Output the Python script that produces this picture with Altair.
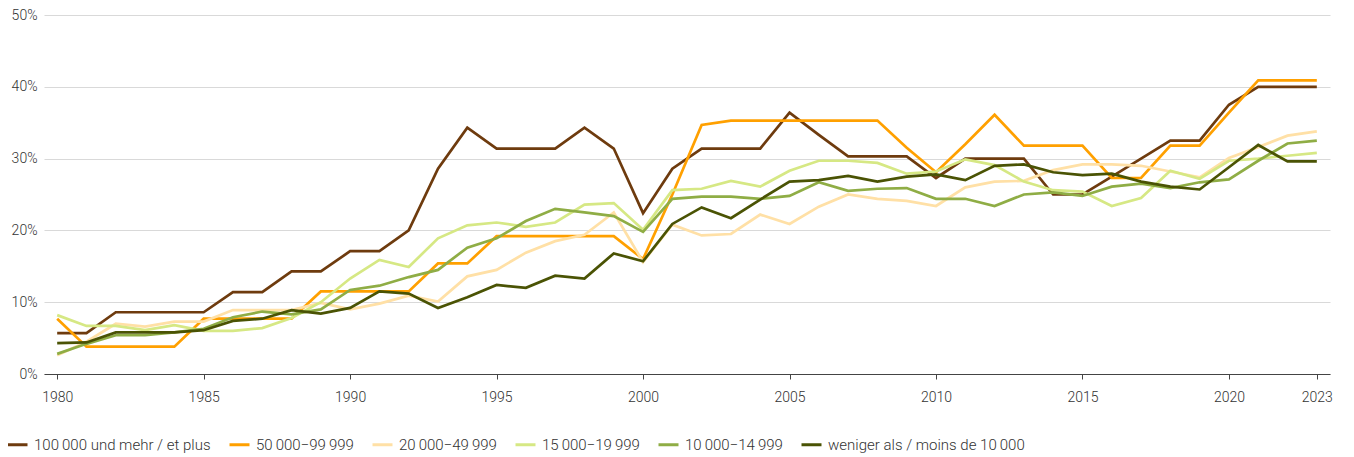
import altair as alt
import pandas as pd

years = list(range(1980, 2024))

series_names = [
    "100\u2009000 und mehr / et plus",
    "50\u2009000\u221299\u2009999",
    "20\u2009000\u221249\u2009999",
    "15\u2009000\u221219\u2009999",
    "10\u2009000\u221214\u2009999",
    "weniger als / moins de 10\u2009000",
]
series_colors = ["#6e3b0e", "#ffa000", "#ffe0a6", "#d6e884", "#8fad45", "#4a5304"]

v100 = [5.7, 5.7, 8.6, 8.6, 8.6, 8.6, 11.4, 11.4, 14.3, 14.3,
        17.1, 17.1, 20.0, 28.6, 34.3, 31.4, 31.4, 31.4, 34.3, 31.4,
        22.4, 28.6, 31.4, 31.4, 31.4, 36.4, 33.3, 30.3, 30.3, 30.3,
        27.3, 30.0, 30.0, 30.0, 25.0, 25.0, 27.5, 30.0, 32.5, 32.5,
        37.5, 40.0, 40.0, 40.0]
v50 = [7.7, 3.8, 3.8, 3.8, 3.8, 7.7, 7.7, 7.7, 7.7, 11.5,
       11.5, 11.5, 11.5, 15.4, 15.4, 19.2, 19.2, 19.2, 19.2, 19.2,
       16.0, 25.0, 34.7, 35.3, 35.3, 35.3, 35.3, 35.3, 35.3, 31.5,
       28.1, 32.0, 36.1, 31.8, 31.8, 31.8, 27.3, 27.3, 31.8, 31.8,
       36.4, 40.9, 40.9, 40.9]
v20 = [2.6, 4.5, 7.0, 6.6, 7.3, 7.3, 8.9, 8.9, 8.9, 9.9,
       9.0, 9.8, 10.9, 10.1, 13.6, 14.5, 16.9, 18.5, 19.4, 22.5,
       15.6, 20.8, 19.3, 19.5, 22.2, 20.9, 23.3, 25.0, 24.4, 24.1,
       23.4, 26.0, 26.8, 26.9, 28.4, 29.2, 29.2, 29.0, 28.2, 27.4,
       30.1, 31.6, 33.2, 33.8]
v15 = [8.2, 6.7, 6.7, 6.1, 6.8, 6.0, 6.0, 6.4, 7.8, 10.0,
       13.3, 15.9, 14.9, 18.9, 20.7, 21.1, 20.5, 21.1, 23.6, 23.8,
       20.1, 25.6, 25.8, 26.9, 26.1, 28.3, 29.7, 29.7, 29.4, 27.9,
       28.2, 29.9, 29.1, 26.8, 25.6, 25.4, 23.4, 24.5, 28.3, 27.2,
       29.7, 30.0, 30.4, 30.8]
v10 = [2.8, 4.2, 5.4, 5.4, 5.8, 6.3, 7.9, 8.7, 8.3, 9.0,
       11.7, 12.3, 13.5, 14.5, 17.6, 18.9, 21.3, 23.0, 22.5, 22.0,
       19.8, 24.4, 24.7, 24.7, 24.4, 24.8, 26.7, 25.5, 25.8, 25.9,
       24.4, 24.4, 23.4, 25.0, 25.3, 24.8, 26.1, 26.5, 25.9, 26.7,
       27.1, 29.7, 32.1, 32.5]
v0 = [4.3, 4.4, 5.8, 5.8, 5.8, 6.1, 7.4, 7.7, 8.9, 8.4,
      9.2, 11.5, 11.2, 9.2, 10.7, 12.4, 12.0, 13.7, 13.3, 16.8,
      15.7, 20.9, 23.2, 21.7, 24.3, 26.8, 27.0, 27.6, 26.8, 27.5,
      27.8, 27.0, 29.0, 29.2, 28.1, 27.7, 27.9, 26.8, 26.1, 25.7,
      28.8, 31.9, 29.6, 29.6]

x_ticks = [1980, 1985, 1990, 1995, 2000, 2005, 2010, 2015, 2020, 2023]
y_ticks = [0, 10, 20, 30, 40, 50]

all_values = [v100, v50, v20, v15, v10, v0]
rows = []
for name, vals in zip(series_names, all_values):
    for yr, v in zip(years, vals):
        rows.append({"year": yr, "value": v, "series": name})
df = pd.DataFrame(rows)

FONT = "Roboto"

chart = alt.Chart(df).mark_line(strokeWidth=2.7, strokeJoin="miter").encode(
    x=alt.X("year:Q",
            scale=alt.Scale(domain=[1979.55, 2023.45], nice=False, zero=False),
            axis=alt.Axis(values=x_ticks, format="d", title=None, grid=False,
                          domainColor="#444444", tickColor="#444444", tickSize=5,
                          labelFontSize=14, labelColor="#333333", labelFont=FONT,
                          labelFontWeight=300, labelPadding=11, labelFlush=False)),
    y=alt.Y("value:Q",
            scale=alt.Scale(domain=[0, 50], nice=False),
            axis=alt.Axis(values=y_ticks, labelExpr="datum.value + '%'", title=None,
                          domain=False, ticks=False, grid=True, gridColor="#d9d9d9",
                          gridWidth=1, labelFontSize=14, labelColor="#333333",
                          labelFont=FONT, labelFontWeight=300, labelPadding=7)),
    color=alt.Color("series:N",
                    scale=alt.Scale(domain=series_names, range=series_colors),
                    sort=series_names,
                    legend=alt.Legend(orient="none", legendX=-38, legendY=418,
                                      direction="horizontal", title=None,
                                      symbolType="stroke", symbolStrokeWidth=3,
                                      symbolSize=400, labelFontSize=15,
                                      labelFont=FONT, labelFontWeight=300,
                                      labelColor="#333333", labelOffset=5,
                                      columnPadding=12, padding=0,
                                      labelLimit=400)),
).properties(
    width=1286,
    height=359,
    padding={"left": -2, "top": 0, "right": 0, "bottom": 0},
).configure_view(stroke=None)

chart.save("out.html", embed_options={"renderer": "svg", "actions": False})
